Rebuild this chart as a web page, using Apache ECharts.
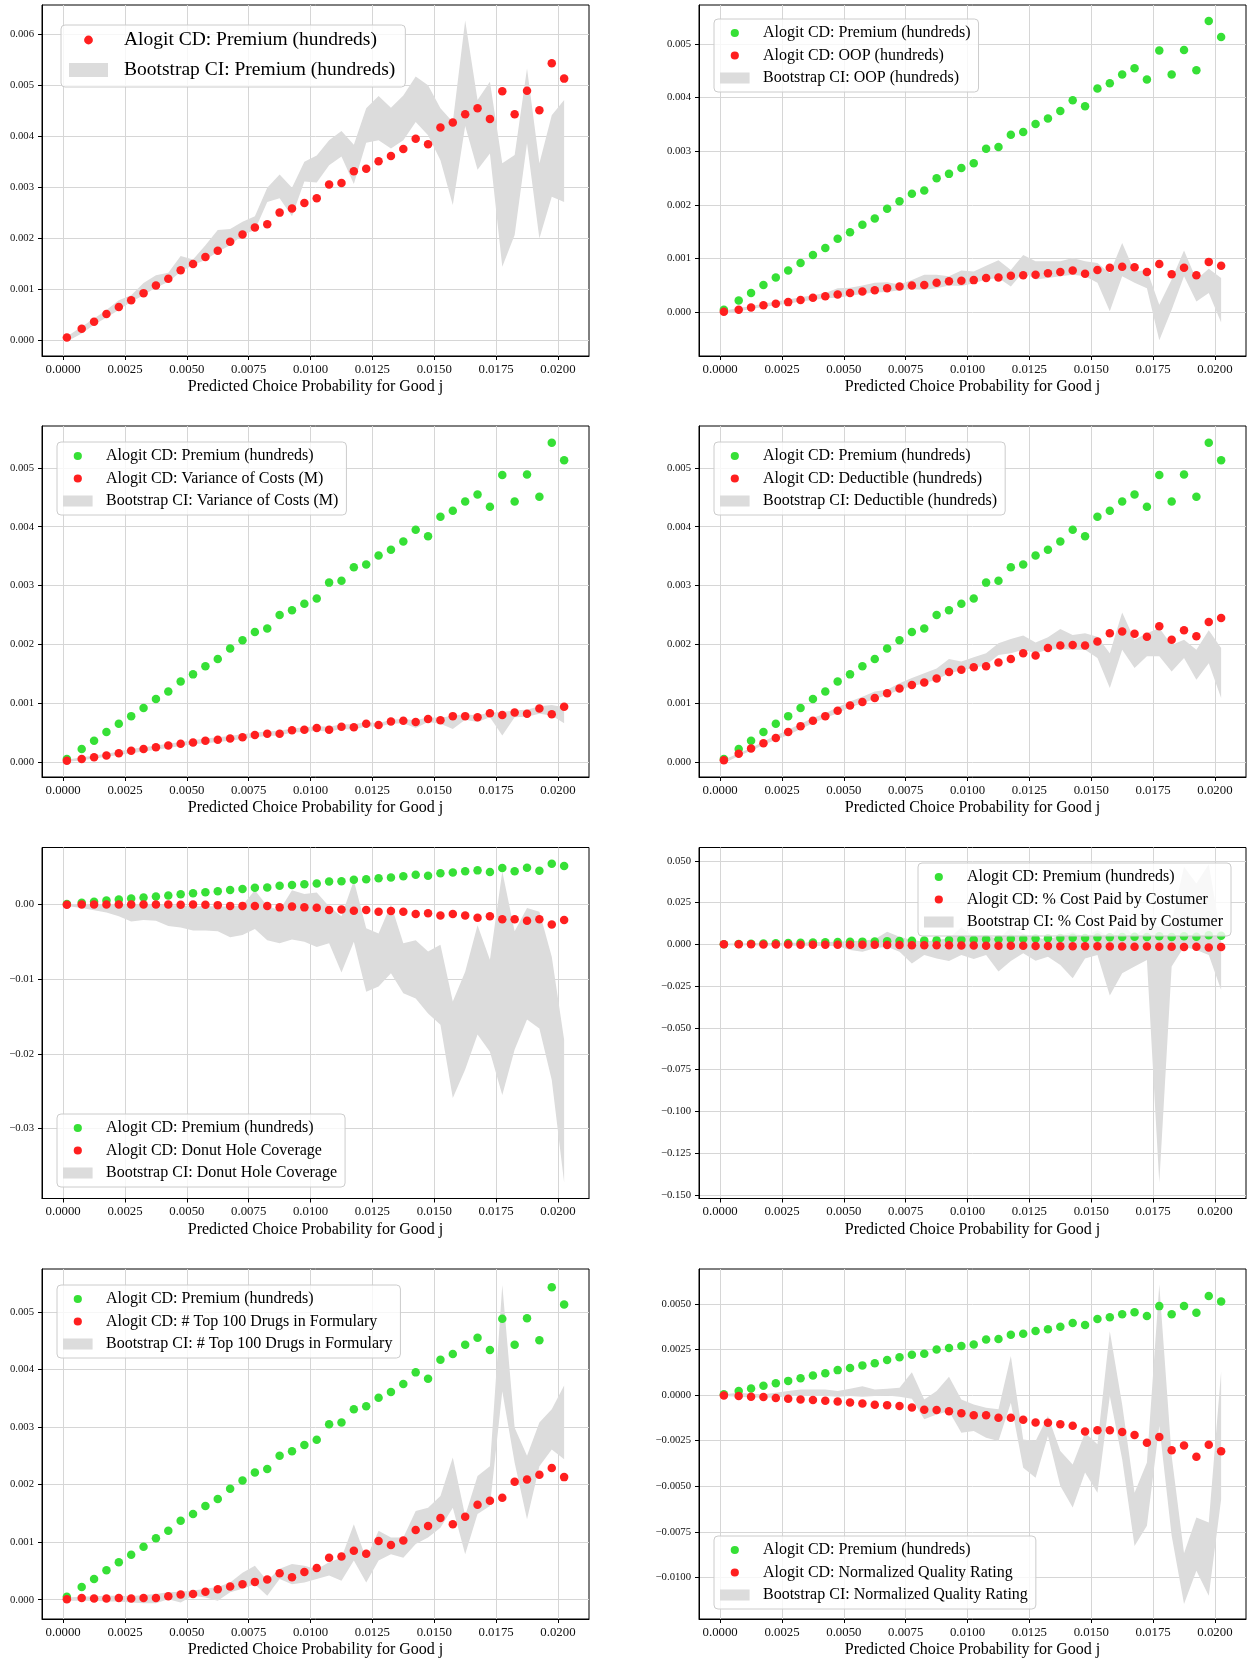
<!DOCTYPE html>
<html><head><meta charset="utf-8">
<script src="https://cdn.jsdelivr.net/npm/echarts@6/dist/echarts.min.js"></script>
<style>html,body{margin:0;padding:0;background:#fff}#chart{width:1250px;height:1659px}</style>
</head><body><div id="chart"></div>
<script>
// ---------------- DATA ----------------
const xValues = [0.00015,0.00075,0.00125,0.00175,0.00225,0.00275,0.00325,0.00375,0.00425,0.00475,
 0.00525,0.00575,0.00625,0.00675,0.00725,0.00775,0.00825,0.00875,0.00925,0.00975,
 0.01025,0.01075,0.01125,0.01175,0.01225,0.01275,0.01325,0.01375,0.01425,0.01475,
 0.01525,0.01575,0.01625,0.01675,0.01725,0.01775,0.01825,0.01875,0.01925,0.01975,0.02025];

const premium = [0.00005,0.00022,0.00036,0.00051,0.00065,0.00078,0.00092,0.00107,0.00120,0.00137,
 0.00149,0.00163,0.00175,0.00193,0.00207,0.00221,0.00227,0.00250,0.00258,0.00269,
 0.00278,0.00305,0.00308,0.00331,0.00336,0.00351,0.00361,0.00375,0.00395,0.00384,
 0.00417,0.00427,0.00443,0.00455,0.00434,0.00488,0.00443,0.00489,0.00451,0.00543,0.00513];
const premiumLow = [-0.00003,0.00013,0.00030,0.00044,0.00059,0.00075,0.00088,0.00103,0.00114,0.00134,
 0.00147,0.00157,0.00173,0.00186,0.00206,0.00216,0.00271,0.00278,0.00243,0.00311,
 0.00309,0.00343,0.00360,0.00306,0.00387,0.00392,0.00376,0.00392,0.00428,0.00402,
 0.00353,0.00265,0.00420,0.00334,0.00366,0.00144,0.00206,0.00386,0.00199,0.00281,0.00271];
const premiumHigh = [0.00007,0.00026,0.00042,0.00059,0.00078,0.00088,0.00112,0.00127,0.00132,0.00165,
 0.00158,0.00186,0.00216,0.00218,0.00232,0.00243,0.00299,0.00325,0.00299,0.00350,
 0.00362,0.00392,0.00410,0.00383,0.00455,0.00479,0.00456,0.00480,0.00517,0.00500,
 0.00455,0.00428,0.00627,0.00471,0.00507,0.00347,0.00363,0.00533,0.00347,0.00441,0.00471];

const oop = [0.00001,0.00005,0.00009,0.00013,0.00016,0.00019,0.00023,0.00027,0.00030,0.00033,
 0.00036,0.00039,0.00041,0.00045,0.00048,0.00050,0.00051,0.00055,0.00058,0.00059,
 0.00060,0.00064,0.00065,0.00068,0.00069,0.00070,0.00073,0.00075,0.00078,0.00072,
 0.00079,0.00083,0.00085,0.00084,0.00075,0.00090,0.00071,0.00083,0.00069,0.00094,0.00087];
const oopLow = [-0.00002,0.00002,0.00006,0.00010,0.00013,0.00016,0.00020,0.00023,0.00026,0.00027,
 0.00031,0.00034,0.00037,0.00038,0.00041,0.00043,0.00042,0.00045,0.00050,0.00049,
 0.00054,0.00061,0.00064,0.00048,0.00075,0.00061,0.00064,0.00067,0.00070,0.00067,
 0.00055,0.00002,0.00067,0.00055,0.00045,-0.00052,0.00005,0.00067,0.00020,0.00036,-0.00019];
const oopHigh = [0.00003,0.00008,0.00012,0.00016,0.00020,0.00024,0.00028,0.00032,0.00036,0.00045,
 0.00046,0.00050,0.00055,0.00056,0.00052,0.00060,0.00070,0.00070,0.00067,0.00078,
 0.00076,0.00087,0.00097,0.00079,0.00107,0.00095,0.00095,0.00095,0.00101,0.00095,
 0.00092,0.00073,0.00129,0.00076,0.00079,0.00014,0.00061,0.00115,0.00061,0.00081,0.00064];

const varCost = [0.00002,0.00005,0.00008,0.00011,0.00015,0.00019,0.00022,0.00025,0.00028,0.00031,
 0.00033,0.00036,0.00038,0.00040,0.00042,0.00046,0.00048,0.00048,0.00054,0.00055,
 0.00058,0.00055,0.00060,0.00059,0.00065,0.00063,0.00069,0.00070,0.00068,0.00073,
 0.00071,0.00078,0.00078,0.00076,0.00083,0.00080,0.00084,0.00082,0.00091,0.00081,0.00094];
const varLow = [0.00000,0.00003,0.00006,0.00009,0.00012,0.00015,0.00018,0.00021,0.00024,0.00027,
 0.00030,0.00032,0.00034,0.00036,0.00039,0.00042,0.00044,0.00045,0.00050,0.00051,
 0.00053,0.00052,0.00056,0.00055,0.00061,0.00060,0.00065,0.00066,0.00058,0.00068,
 0.00065,0.00056,0.00072,0.00068,0.00076,0.00045,0.00076,0.00077,0.00082,0.00079,0.00066];
const varHigh = [0.00004,0.00008,0.00011,0.00014,0.00018,0.00022,0.00025,0.00028,0.00031,0.00034,
 0.00037,0.00040,0.00042,0.00044,0.00047,0.00050,0.00052,0.00053,0.00057,0.00059,
 0.00061,0.00060,0.00064,0.00064,0.00068,0.00066,0.00072,0.00073,0.00071,0.00076,
 0.00075,0.00079,0.00081,0.00079,0.00084,0.00085,0.00088,0.00089,0.00095,0.00097,0.00093];

const deductible = [0.00003,0.00014,0.00023,0.00032,0.00041,0.00051,0.00061,0.00070,0.00078,0.00087,
 0.00096,0.00102,0.00109,0.00117,0.00125,0.00131,0.00135,0.00142,0.00153,0.00157,
 0.00161,0.00163,0.00169,0.00175,0.00185,0.00181,0.00194,0.00198,0.00199,0.00198,
 0.00205,0.00219,0.00222,0.00218,0.00213,0.00231,0.00208,0.00224,0.00214,0.00238,0.00245];
const dedLow = [-0.00002,0.00010,0.00019,0.00029,0.00038,0.00046,0.00056,0.00066,0.00075,0.00083,
 0.00093,0.00100,0.00107,0.00114,0.00123,0.00129,0.00134,0.00140,0.00151,0.00156,
 0.00160,0.00165,0.00182,0.00185,0.00191,0.00185,0.00191,0.00192,0.00191,0.00191,
 0.00177,0.00126,0.00191,0.00160,0.00180,0.00180,0.00154,0.00177,0.00140,0.00168,0.00109];
const dedHigh = [0.00004,0.00015,0.00024,0.00035,0.00045,0.00055,0.00065,0.00075,0.00083,0.00093,
 0.00103,0.00111,0.00120,0.00123,0.00134,0.00143,0.00151,0.00159,0.00175,0.00171,
 0.00178,0.00185,0.00202,0.00209,0.00215,0.00203,0.00212,0.00226,0.00216,0.00219,
 0.00213,0.00185,0.00254,0.00208,0.00219,0.00228,0.00199,0.00208,0.00191,0.00224,0.00194];

const donut = [-0.00004,0.00000,0.00000,0.00000,0.00000,0.00000,0.00000,0.00000,0.00000,-0.00004,
 0.00000,-0.00004,-0.00010,-0.00020,-0.00020,-0.00022,-0.00022,-0.00040,-0.00030,-0.00040,
 -0.00045,-0.00076,-0.00067,-0.00085,-0.00076,-0.00100,-0.00090,-0.00100,-0.00130,-0.00120,
 -0.00150,-0.00130,-0.00150,-0.00180,-0.00160,-0.00200,-0.00200,-0.00220,-0.00200,-0.00270,-0.00210];
const donutLow = [-0.0002,-0.0005,-0.0008,-0.0011,-0.0016,-0.0023,-0.0021,-0.0022,-0.0029,-0.0031,
 -0.0035,-0.0035,-0.0036,-0.0044,-0.0041,-0.0033,-0.0048,-0.0052,-0.0047,-0.0050,
 -0.0057,-0.0052,-0.0091,-0.0050,-0.0117,-0.0110,-0.0092,-0.0119,-0.0126,-0.0146,
 -0.0161,-0.0259,-0.0221,-0.0174,-0.0197,-0.0255,-0.0194,-0.0154,-0.0166,-0.0235,-0.0372];
const donutHigh = [0.00004,0.0000,0.0000,0.0000,0.0000,0.00004,0.00004,0.0000,-0.0001,-0.00013,
 -0.0003,-0.0002,-0.0003,-0.0003,-0.0001,0.0019,-0.0002,-0.0008,0.0019,0.0014,
 0.0016,-0.0003,-0.0016,0.0032,-0.0032,-0.0039,0.0000,-0.0052,-0.0048,-0.0063,
 -0.0054,-0.0130,-0.0090,-0.0028,-0.0074,0.0044,-0.0036,-0.0005,-0.0010,-0.0070,-0.0181];

const costShare = [0.0000,0.0000,0.0000,-0.0001,-0.0001,-0.0001,-0.0002,-0.0002,-0.0002,-0.0003,
 -0.0003,-0.0003,-0.0003,-0.0004,-0.0004,-0.0005,-0.0005,-0.0006,-0.0006,-0.0007,
 -0.0007,-0.0008,-0.0008,-0.0009,-0.0009,-0.0010,-0.0010,-0.0011,-0.0011,-0.0011,
 -0.0012,-0.0013,-0.0013,-0.0014,-0.0013,-0.0015,-0.0014,-0.0016,-0.0015,-0.0019,-0.0016];
const costLow = [-0.0005,-0.0006,-0.0006,-0.0007,-0.0007,-0.0008,-0.0008,-0.0009,-0.0010,-0.0010,
 -0.0034,-0.0044,-0.0024,-0.0014,-0.0044,-0.0114,-0.0064,-0.0084,-0.0100,-0.0064,
 -0.0088,-0.0064,-0.0163,-0.0100,-0.0054,-0.0098,-0.0074,-0.0124,-0.0203,-0.0084,
 -0.0064,-0.0307,-0.0173,-0.0133,-0.0094,-0.1428,-0.0133,-0.0014,-0.0034,-0.0064,-0.0273];
const costHigh = [0.0005,0.0005,0.0006,0.0008,0.0008,0.0010,0.0010,0.0012,0.0014,0.0016,
 0.0020,0.0022,0.0030,0.0076,0.0046,0.0026,0.0016,0.0026,0.0036,0.0102,
 0.0046,0.0056,0.0030,0.0102,0.0066,0.0042,0.0026,0.0056,0.0076,0.0046,
 0.0086,0.0042,0.0125,0.0046,0.0116,0.0106,0.0135,0.0464,0.0365,0.0480,0.0046];

const top100 = [0.00001,0.00003,0.00002,0.00002,0.00003,0.00002,0.00003,0.00003,0.00006,0.00009,
 0.00010,0.00014,0.00018,0.00023,0.00027,0.00031,0.00035,0.00046,0.00039,0.00048,
 0.00055,0.00073,0.00075,0.00085,0.00080,0.00102,0.00095,0.00103,0.00121,0.00128,
 0.00142,0.00131,0.00144,0.00165,0.00172,0.00177,0.00205,0.00209,0.00217,0.00229,0.00213];
const topLow = [-0.00002,-0.00002,-0.00002,-0.00003,-0.00003,-0.00005,-0.00006,-0.00006,0.00001,-0.00005,
 0.00007,0.00004,-0.00002,0.00013,0.00019,0.00027,0.00007,0.00036,0.00027,0.00030,
 0.00036,0.00042,0.00033,0.00068,0.00030,0.00068,0.00079,0.00073,0.00097,0.00108,
 0.00125,0.00160,0.00079,0.00149,0.00163,0.00362,0.00238,0.00140,0.00232,0.00261,0.00244];
const topHigh = [0.00004,0.00005,0.00006,0.00007,0.00007,0.00006,0.00008,0.00010,0.00013,0.00014,
 0.00016,0.00019,0.00022,0.00030,0.00047,0.00059,0.00033,0.00054,0.00062,0.00059,
 0.00053,0.00065,0.00073,0.00131,0.00071,0.00120,0.00108,0.00108,0.00154,0.00160,
 0.00180,0.00247,0.00146,0.00215,0.00232,0.00547,0.00299,0.00250,0.00308,0.00331,0.00372];

const quality = [-0.00002,-0.00005,-0.00009,-0.00011,-0.00016,-0.00020,-0.00024,-0.00027,-0.00031,-0.00035,
 -0.00040,-0.00046,-0.00053,-0.00055,-0.00060,-0.00068,-0.00080,-0.00082,-0.00088,-0.00099,
 -0.00110,-0.00110,-0.00124,-0.00124,-0.00135,-0.00150,-0.00151,-0.00160,-0.00168,-0.00200,
 -0.00193,-0.00193,-0.00203,-0.00219,-0.00261,-0.00230,-0.00303,-0.00277,-0.00338,-0.00272,-0.00308];
const qualLow = [-0.00005,-0.00009,-0.00013,-0.00015,-0.00013,-0.00005,-0.00005,-0.00005,-0.00005,-0.00009,
 -0.00005,-0.00009,-0.00005,-0.00002,-0.00009,-0.00020,-0.00133,-0.00106,-0.00088,-0.00206,
 -0.00197,-0.00234,-0.00252,-0.00042,-0.00398,-0.00453,-0.00224,-0.00498,-0.00617,-0.00425,
 -0.00535,-0.00005,-0.00352,-0.00827,-0.00717,-0.00170,-0.00772,-0.01146,-0.00964,-0.01100,-0.00571];
const qualHigh = [0.00004,0.00013,0.00007,0.00004,0.00013,0.00022,0.00031,0.00031,0.00031,0.00022,
 0.00035,0.00049,0.00031,0.00035,0.00040,0.00126,-0.00024,0.00022,0.00100,-0.00024,
 -0.00051,-0.00069,-0.00078,0.00214,-0.00243,-0.00252,-0.00115,-0.00307,-0.00380,-0.00206,
 -0.00270,0.00350,-0.00051,-0.00535,-0.00370,0.00606,-0.00334,-0.00867,-0.00672,-0.00699,0.00131];

const xTicks = [0, 0.0025, 0.005, 0.0075, 0.01, 0.0125, 0.015, 0.0175, 0.02];
const yTicksP1 = [0, 0.001, 0.002, 0.003, 0.004, 0.005, 0.006];
const yTicksSmall = [0, 0.001, 0.002, 0.003, 0.004, 0.005];
const yTicksDonut = [-0.03, -0.02, -0.01, 0];
const yTicksCost = [-0.15, -0.125, -0.1, -0.075, -0.05, -0.025, 0, 0.025, 0.05];
const yTicksQuality = [-0.01, -0.0075, -0.005, -0.0025, 0, 0.0025, 0.005];

const xLabel = 'Predicted Choice Probability for Good j';
const premiumName = 'Alogit CD: Premium (hundreds)';

// ---------------- STYLE / LAYOUT ----------------
const FONT = "'Liberation Serif', 'DejaVu Serif', serif";
const RED = '#ff1f1f', GREEN = '#36e036', BAND = '#dcdcdc';
const X_MIN = -0.000855, X_MAX = 0.021255;
const COLS = [42, 699], ROWS = [5, 426, 847.5, 1269], GW = 547, GH = 351;

const panels = [
  {red: premium, lo: premiumLow, hi: premiumHigh, redName: premiumName, bandName: 'Bootstrap CI: Premium (hundreds)',
   green: false, ymin: -0.000314, ymax: 0.006575, ticks: yTicksP1, dec: 3, legend: {left: 61, top: 25}, big: true},
  {red: oop, lo: oopLow, hi: oopHigh, redName: 'Alogit CD: OOP (hundreds)', bandName: 'Bootstrap CI: OOP (hundreds)',
   green: true, ymin: -0.000814, ymax: 0.005727, ticks: yTicksSmall, dec: 3, legend: {left: 714, top: 19}},
  {red: varCost, lo: varLow, hi: varHigh, redName: 'Alogit CD: Variance of Costs (M)', bandName: 'Bootstrap CI: Variance of Costs (M)',
   green: true, ymin: -0.000255, ymax: 0.005713, ticks: yTicksSmall, dec: 3, legend: {left: 57, top: 442}},
  {red: deductible, lo: dedLow, hi: dedHigh, redName: 'Alogit CD: Deductible (hundreds)', bandName: 'Bootstrap CI: Deductible (hundreds)',
   green: true, ymin: -0.000255, ymax: 0.005713, ticks: yTicksSmall, dec: 3, legend: {left: 714, top: 442}},
  {red: donut, lo: donutLow, hi: donutHigh, redName: 'Alogit CD: Donut Hole Coverage', bandName: 'Bootstrap CI: Donut Hole Coverage',
   green: true, ymin: -0.03935, ymax: 0.00761, ticks: yTicksDonut, dec: 2, legend: {left: 57, top: 1114}},
  {red: costShare, lo: costLow, hi: costHigh, redName: 'Alogit CD: % Cost Paid by Costumer', bandName: 'Bootstrap CI: % Cost Paid by Costumer',
   green: true, ymin: -0.1522, ymax: 0.058, ticks: yTicksCost, dec: 3, legend: {right: 19, top: 863}},
  {red: top100, lo: topLow, hi: topHigh, redName: 'Alogit CD: # Top 100 Drugs in Formulary', bandName: 'Bootstrap CI: # Top 100 Drugs in Formulary',
   green: true, ymin: -0.000335, ymax: 0.005746, ticks: yTicksSmall, dec: 3, legend: {left: 57, top: 1285}},
  {red: quality, lo: qualLow, hi: qualHigh, redName: 'Alogit CD: Normalized Quality Rating', bandName: 'Bootstrap CI: Normalized Quality Rating',
   green: true, ymin: -0.01228, ymax: 0.006916, ticks: yTicksQuality, dec: 4, legend: {left: 714, top: 1536}}
];

function fmt(v, d) { return (v < -1e-12 ? '\u2212' : '') + Math.abs(v).toFixed(d); }
function circlePath(W, H, cx, r) {
  const cy = H / 2;
  return 'path://M0,0L0.01,0M' + W + ',' + H + 'L' + (W - 0.01) + ',' + H +
    'M' + (cx - r) + ',' + cy + 'A' + r + ',' + r + ',0,1,0,' + (cx + r) + ',' + cy +
    'A' + r + ',' + r + ',0,1,0,' + (cx - r) + ',' + cy + 'Z';
}
function rectPath(W, H, hw) {
  return 'path://M0,0L' + hw + ',0L' + hw + ',' + H + 'L0,' + H + 'ZM' + W + ',' + H + 'L' + (W - 0.01) + ',' + H;
}

const grid = [], xAxis = [], yAxis = [], series = [], legend = [];
panels.forEach((p, i) => {
  const col = i % 2, row = Math.floor(i / 2);
  grid.push({left: COLS[col], top: ROWS[row], width: GW, height: GH, show: true,
    borderColor: '#000', borderWidth: 1, backgroundColor: '#fff', containLabel: false});
  xAxis.push({type: 'value', gridIndex: i, min: X_MIN, max: X_MAX,
    name: xLabel, nameLocation: 'middle', nameGap: 23,
    nameTextStyle: {fontFamily: FONT, fontSize: 16, color: '#000'},
    axisLine: {show: true, onZero: false, lineStyle: {color: '#000', width: 1}},
    axisTick: {show: true, inside: false, length: 4, customValues: xTicks, lineStyle: {color: '#000', width: 1}},
    axisLabel: {customValues: xTicks, formatter: v => fmt(v, 4), fontFamily: FONT, fontSize: 12.8, color: '#111', margin: 7},
    splitLine: {show: true, lineStyle: {color: '#d6d6d6', width: 1}}
  });
  yAxis.push({type: 'value', gridIndex: i, min: p.ymin, max: p.ymax,
    axisLine: {show: true, onZero: false, lineStyle: {color: '#000', width: 1}},
    axisTick: {show: true, inside: false, length: 4, customValues: p.ticks, lineStyle: {color: '#000', width: 1}},
    axisLabel: {customValues: p.ticks, formatter: (v => fmt(v, p.dec)), fontFamily: FONT, fontSize: 10.7, color: '#111', margin: 8},
    splitLine: {show: true, lineStyle: {color: '#d6d6d6', width: 1}}
  });
  const lo = p.lo, hi = p.hi;
  series.push({type: 'custom', name: p.bandName, xAxisIndex: i, yAxisIndex: i, silent: true, z: 1,
    data: xValues.map((x, k) => [x, lo[k], hi[k]]),
    encode: {x: 0, y: [1, 2]},
    renderItem: (params, api) => {
      if (params.dataIndex !== 0) return null;
      const top = [], bot = [];
      for (let k = 0; k < xValues.length; k++) {
        top.push(api.coord([xValues[k], hi[k]]));
        bot.push(api.coord([xValues[k], lo[k]]));
      }
      return {type: 'polygon', shape: {points: top.concat(bot.reverse())}, style: {fill: BAND}};
    }
  });
  if (p.green) {
    series.push({type: 'scatter', name: premiumName, xAxisIndex: i, yAxisIndex: i, z: 3,
      symbolSize: 8.5, itemStyle: {color: GREEN, opacity: 1},
      data: xValues.map((x, k) => [x, premium[k]])});
  }
  series.push({type: 'scatter', name: p.redName, xAxisIndex: i, yAxisIndex: i, z: 4,
    symbolSize: 8.5, itemStyle: {color: RED, opacity: 1},
    data: xValues.map((x, k) => [x, p.red[k]])});

  const big = !!p.big;
  const W = big ? 50 : 38, H = big ? 14 : 11, hw = big ? 39 : 29.6, r = big ? 4.4 : 4.1;
  const items = [];
  if (p.green) items.push({name: premiumName, icon: circlePath(W, H, hw / 2, r), itemStyle: {color: GREEN, borderWidth: 0}});
  items.push({name: p.redName, icon: circlePath(W, H, hw / 2, r), itemStyle: {color: RED, borderWidth: 0}});
  items.push({name: p.bandName, icon: rectPath(W, H, hw), itemStyle: {color: BAND, borderWidth: 0}});
  legend.push(Object.assign({orient: 'vertical', selectedMode: false,
    itemWidth: W, itemHeight: H, itemGap: big ? 10 : 6.5,
    padding: big ? [5, 10, 7, 8] : [6, 8, 6, 6],
    backgroundColor: 'rgba(255,255,255,0.8)', borderColor: '#cccccc', borderWidth: 1, borderRadius: 4,
    textStyle: {fontFamily: FONT, fontSize: big ? 19.5 : 16, lineHeight: big ? 20 : 16, color: '#000'},
    data: items}, p.legend));
});

const chart = echarts.init(document.getElementById('chart'), null, {renderer: 'canvas'});
chart.setOption({animation: false, backgroundColor: '#fff', grid, xAxis, yAxis, series, legend});
</script></body></html>
